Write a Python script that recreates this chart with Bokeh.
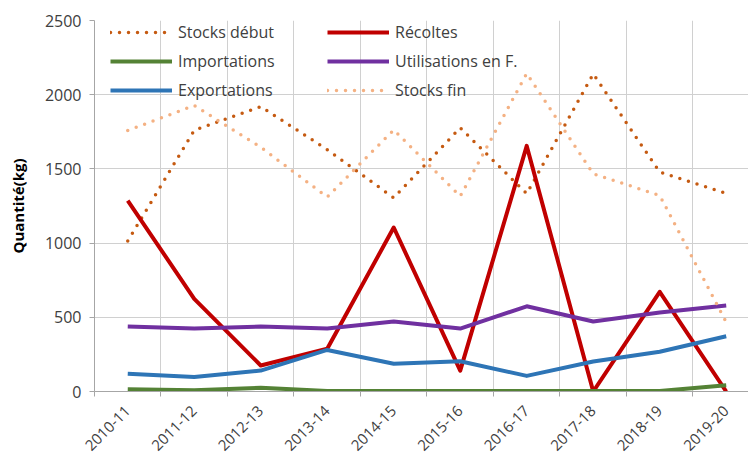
from bokeh.plotting import figure
from bokeh.models import FixedTicker, Range1d, Legend, LegendItem
from bokeh.embed import file_html
from bokeh.resources import INLINE
import math

years = ["2010-11", "2011-12", "2012-13", "2013-14", "2014-15",
         "2015-16", "2016-17", "2017-18", "2018-19", "2019-20"]
stocks_debut = [1014, 1760, 1920, 1630, 1305, 1777, 1333, 2140, 1478, 1336]
recoltes = [1287, 624, 175, 288, 1105, 141, 1655, 0, 672, 0]
importations = [15, 8, 25, 3, 3, 3, 3, 3, 3, 42]
utilisations = [438, 424, 438, 424, 472, 424, 574, 472, 533, 580]
exportations = [119, 98, 141, 280, 187, 204, 105, 202, 268, 372]
stocks_fin = [1759, 1927, 1646, 1310, 1763, 1316, 2143, 1467, 1321, 467]

y_ticks = [0, 500, 1000, 1500, 2000, 2500]

xs = list(range(len(years)))
FONT = "Open Sans"
TXT = "#404040"

p = figure(width=748, height=458, output_backend="svg", toolbar_location=None,
           x_range=Range1d(-0.5, 9.335), y_range=Range1d(0, 2500),
           min_border_left=94, min_border_top=20, min_border_right=0,
           min_border_bottom=67)
p.outline_line_color = None
p.background_fill_color = "white"
p.border_fill_color = "white"

# axes
p.xaxis.ticker = FixedTicker(ticks=xs, minor_ticks=[i - 0.5 for i in range(len(years) + 1)])
p.xaxis.major_label_overrides = {i: y for i, y in enumerate(years)}
p.xaxis.major_label_orientation = math.pi / 4
p.xaxis.major_tick_out = 0
p.xaxis.major_tick_in = 0
p.xaxis.minor_tick_out = 5
p.xaxis.minor_tick_in = 0
p.xaxis.minor_tick_line_color = "#a6a6a6"
p.xaxis.axis_line_color = "#a6a6a6"
p.xaxis.major_label_text_font = FONT
p.xaxis.major_label_text_font_size = "15px"
p.xaxis.major_label_text_color = TXT
p.xaxis.major_label_standoff = 12

p.yaxis.ticker = FixedTicker(ticks=y_ticks)
p.yaxis.minor_tick_line_color = None
p.yaxis.major_tick_out = 5
p.yaxis.major_tick_in = 0
p.yaxis.major_tick_line_color = "#a6a6a6"
p.yaxis.axis_line_color = "#a6a6a6"
p.yaxis.major_label_text_font = FONT
p.yaxis.major_label_text_font_size = "16px"
p.yaxis.major_label_text_color = TXT
p.yaxis.major_label_standoff = 8
p.yaxis.axis_label = "Quantité(kg)"
p.yaxis.axis_label_text_font = FONT
p.yaxis.axis_label_text_font_size = "15px"
p.yaxis.axis_label_text_font_style = "bold"
p.yaxis.axis_label_text_color = "black"
p.yaxis.axis_label_standoff = 14

p.xgrid.ticker = FixedTicker(ticks=[i + 0.5 for i in range(len(years))])
p.xgrid.grid_line_color = "#d0d0d0"
p.ygrid.grid_line_color = "#d0d0d0"

dot = "0 9"
r1 = p.line(xs, stocks_debut, line_color="#C55A11", line_width=3.5, line_dash=dot, line_cap="round")
r2 = p.line(xs, recoltes, line_color="#C00000", line_width=4, line_join="round")
r3 = p.line(xs, importations, line_color="#548235", line_width=4, line_join="round")
r4 = p.line(xs, utilisations, line_color="#7030A0", line_width=4, line_join="round")
r5 = p.line(xs, exportations, line_color="#2E75B6", line_width=4, line_join="round")
r6 = p.line(xs, stocks_fin, line_color="#F4B183", line_width=3.5, line_dash=dot, line_cap="round")

def mk_legend(items, loc):
    lg = Legend(items=items, location=loc, orientation="vertical",
                glyph_width=62, glyph_height=20, label_height=20, spacing=7,
                label_standoff=6, padding=0, margin=0,
                background_fill_alpha=0, border_line_color=None,
                label_text_font=FONT, label_text_font_size="16px",
                label_text_color=TXT)
    return lg

lg1 = mk_legend([LegendItem(label="Stocks début", renderers=[r1]),
                 LegendItem(label="Importations", renderers=[r3]),
                 LegendItem(label="Exportations", renderers=[r5])], (16, 290))
lg2 = mk_legend([LegendItem(label="Récoltes", renderers=[r2]),
                 LegendItem(label="Utilisations en F.", renderers=[r4]),
                 LegendItem(label="Stocks fin", renderers=[r6])], (233, 290))
p.add_layout(lg1)
p.add_layout(lg2)

open("out.html", "w").write(file_html(p, INLINE))
